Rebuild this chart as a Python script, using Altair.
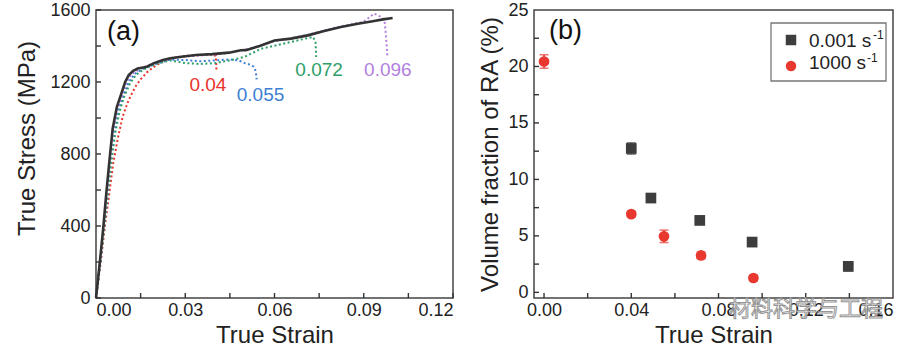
import altair as alt
import pandas as pd

FONT = "Liberation Sans"

# ---------------- Panel (a): true stress-strain curves ----------------
black_strain = [0, 0.0013, 0.0025, 0.0034, 0.0045, 0.0056, 0.007, 0.0084, 0.0098, 0.011, 0.0125,
                0.014, 0.0168, 0.0195, 0.0225, 0.025, 0.028, 0.0336, 0.039, 0.0447, 0.0487, 0.0504,
                0.055, 0.06, 0.0655, 0.0712, 0.0767, 0.0823, 0.088, 0.0935, 0.0965, 0.0997]
black_stress = [0, 200, 400, 570, 760, 940, 1060, 1130, 1200, 1238, 1262,
                1275, 1283, 1305, 1322, 1332, 1339, 1350, 1355, 1363, 1376, 1377,
                1400, 1431, 1441, 1459, 1483, 1506, 1524, 1539, 1548, 1556]

red_strain = [0, 0.0016, 0.003, 0.0044, 0.0058, 0.0075, 0.009, 0.0105, 0.0118, 0.0135, 0.015,
              0.0175, 0.02, 0.0225, 0.025, 0.03, 0.035, 0.039, 0.0403, 0.0404, 0.0405]
red_stress = [0, 200, 400, 572, 750, 900, 1010, 1080, 1128, 1180, 1215,
              1260, 1290, 1315, 1330, 1345, 1350, 1352, 1345, 1300, 1260]

blue_strain = [0, 0.0014, 0.0027, 0.0037, 0.0048, 0.006, 0.0075, 0.009, 0.011, 0.013, 0.016,
               0.02, 0.025, 0.03, 0.035, 0.04, 0.045, 0.048, 0.05, 0.052, 0.053, 0.0537, 0.054]
blue_stress = [0, 200, 400, 580, 760, 920, 1040, 1120, 1200, 1245, 1275,
               1300, 1325, 1322, 1315, 1320, 1325, 1320, 1305, 1295, 1285, 1260, 1215]

green_strain = [0, 0.0015, 0.0028, 0.004, 0.0052, 0.0065, 0.008, 0.0095, 0.0115, 0.0135, 0.016,
                0.02, 0.025, 0.03, 0.035, 0.04, 0.045, 0.05, 0.0555, 0.061, 0.0655, 0.07, 0.073,
                0.0738, 0.074]
green_stress = [0, 200, 400, 580, 760, 920, 1040, 1120, 1195, 1240, 1270,
                1300, 1320, 1305, 1300, 1305, 1320, 1340, 1385, 1405, 1422, 1440, 1450,
                1420, 1339]

purple_strain = [0, 0.0014, 0.0026, 0.0036, 0.0047, 0.0058, 0.0072, 0.0087, 0.0102, 0.012, 0.015,
                 0.02, 0.025, 0.03, 0.04, 0.045, 0.05, 0.055, 0.06, 0.065, 0.07, 0.075, 0.08,
                 0.085, 0.09, 0.0935, 0.096, 0.097, 0.0975, 0.098]
purple_stress = [0, 200, 400, 570, 760, 930, 1050, 1125, 1200, 1245, 1275,
                 1310, 1330, 1342, 1352, 1362, 1380, 1400, 1428, 1440, 1458, 1478, 1500,
                 1518, 1535, 1580, 1560, 1540, 1450, 1335]

ann_labels = ["0.04", "0.055", "0.072", "0.096"]
ann_strain = [0.0376, 0.0553, 0.075, 0.0981]
ann_stress = [1183, 1128, 1267, 1267]
ann_colors = ["#e8322c", "#3d7fd3", "#2e9e68", "#b27fe0"]

a_x_labels = [0, 0.03, 0.06, 0.09, 0.12]
a_x_ticks = [0, 0.015, 0.03, 0.045, 0.06, 0.075, 0.09, 0.105, 0.12]
a_y_labels = [0, 400, 800, 1200, 1600]
a_y_ticks = [0, 200, 400, 600, 800, 1000, 1200, 1400, 1600]

# ---------------- Panel (b): RA volume fraction ----------------
slow_label = "0.001 s"
fast_label = "1000 s"
slow_strain = [0.04, 0.049, 0.0714, 0.0954, 0.1395]
slow_ra = [12.74, 8.35, 6.37, 4.45, 2.3]
slow_err = [0.5, 0.25, 0.25, 0.2, 0.4]
fast_strain = [0.0, 0.04, 0.055, 0.072, 0.096]
fast_ra = [20.44, 6.93, 4.96, 3.27, 1.27]
fast_err = [0.6, 0.25, 0.55, 0.3, 0.25]

b_x_labels = [0, 0.04, 0.08, 0.12, 0.16]
b_x_ticks = [0, 0.02, 0.04, 0.06, 0.08, 0.10, 0.12, 0.14]
b_y_labels = [0, 5, 10, 15, 20, 25]
b_y_ticks = [0, 2.5, 5, 7.5, 10, 12.5, 15, 17.5, 20, 22.5]

TXT = dict(labelFont=FONT, titleFont=FONT, labelColor="#222", titleColor="#222",
           titleFontWeight="normal", labelFontSize=18, titleFontSize=24)
TICK_COLOR = "#333333"


def curve(strain, stress):
    return pd.DataFrame({"strain": strain, "stress": stress, "i": range(len(strain))})


def inner_ticks(xvals, yvals, xfield, yfield, xs, ys, h):
    xt = alt.Chart(pd.DataFrame({xfield: xvals})).mark_rule(
        color=TICK_COLOR, strokeWidth=1.4).encode(
        x=alt.X(f"{xfield}:Q", scale=xs, axis=None),
        y=alt.value(h - 5), y2=alt.value(h))
    yt = alt.Chart(pd.DataFrame({yfield: yvals})).mark_rule(
        color=TICK_COLOR, strokeWidth=1.4).encode(
        y=alt.Y(f"{yfield}:Q", scale=ys, axis=None),
        x=alt.value(0), x2=alt.value(5))
    return [xt, yt]


# ---------------- panel a ----------------
xa = alt.Scale(domain=[0, 0.12], nice=False, zero=False)
ya = alt.Scale(domain=[0, 1600], nice=False)

xa_axis = alt.Axis(orient="bottom", values=a_x_labels, format=".2f",
                   ticks=False, labelPadding=3, domain=False, grid=False,
                   title="True Strain", titlePadding=4, **TXT)
ya_axis = alt.Axis(orient="left", values=a_y_labels, format="d",
                   ticks=False, labelPadding=6, domain=False, grid=False,
                   title="True Stress (MPa)", titlePadding=10, titleY=128, **TXT)

layers_a = []
series = [
    (black_strain, black_stress, "#333333", None, 2.6),
    (red_strain, red_stress, "#e8322c", [2, 2.5], 2.0),
    (blue_strain, blue_stress, "#3d7fd3", [2, 2.5], 2.0),
    (green_strain, green_stress, "#2e9e68", [2, 2.5], 2.0),
    (purple_strain, purple_stress, "#b27fe0", [2, 2.5], 2.0),
]
first = True
for s, t, col, dash, w in series[1:] + series[:1]:
    kw = dict(color=col, strokeWidth=w)
    if dash:
        kw["strokeDash"] = dash
    ln = alt.Chart(curve(s, t)).mark_line(**kw).encode(
        x=alt.X("strain:Q", scale=xa, axis=xa_axis if first else None),
        y=alt.Y("stress:Q", scale=ya, axis=ya_axis if first else None),
        order="i:Q",
    )
    first = False
    layers_a.append(ln)

ann_df = pd.DataFrame({"label": ann_labels, "strain": ann_strain, "stress": ann_stress,
                       "c": ann_colors})
ann = alt.Chart(ann_df).mark_text(font=FONT, fontSize=19).encode(
    x=alt.X("strain:Q", scale=xa, axis=None),
    y=alt.Y("stress:Q", scale=ya, axis=None),
    text="label:N",
    color=alt.Color("c:N", scale=None),
)
tag_a = alt.Chart(pd.DataFrame({"t": ["(a)"], "strain": [0.0037], "stress": [1478]})).mark_text(
    font=FONT, fontSize=27, align="left", color="#111").encode(
    x=alt.X("strain:Q", scale=xa, axis=None),
    y=alt.Y("stress:Q", scale=ya, axis=None),
    text="t:N",
)
panel_a = alt.layer(*layers_a, ann, tag_a,
                    *inner_ticks(a_x_ticks, a_y_ticks, "strain", "stress", xa, ya, 288)
                    ).resolve_axis(x="independent", y="independent").properties(width=357, height=288)

# ---------------- panel b ----------------
xb = alt.Scale(domain=[-0.0046, 0.16], nice=False, zero=False)
yb = alt.Scale(domain=[-0.5, 25], nice=False, zero=False)

xb_axis = alt.Axis(orient="bottom", values=b_x_labels, format=".2f",
                   ticks=False, labelPadding=3, domain=False, grid=False,
                   title="True Strain", titlePadding=4, **TXT)
yb_axis = alt.Axis(orient="left", values=b_y_labels, format="d",
                   ticks=False, labelPadding=6, domain=False, grid=False,
                   title="Volume fraction of RA (%)", titlePadding=5, **TXT)

pts = pd.DataFrame({
    "strain": slow_strain + fast_strain,
    "ra": slow_ra + fast_ra,
    "err": slow_err + fast_err,
    "rate": [slow_label] * len(slow_strain) + [fast_label] * len(fast_strain),
})
pts["lo"] = pts["ra"] - pts["err"]
pts["hi"] = pts["ra"] + pts["err"]

dom = [slow_label, fast_label]
cols = ["#3d3d3d", "#e8382f"]
cscale = alt.Scale(domain=dom, range=cols)
sscale = alt.Scale(domain=dom, range=["square", "circle"])

err_rule = alt.Chart(pts).mark_rule(strokeWidth=1.5).encode(
    x=alt.X("strain:Q", scale=xb, axis=None),
    y=alt.Y("lo:Q", scale=yb, axis=None),
    y2="hi:Q",
    color=alt.Color("rate:N", scale=cscale, legend=None),
)
cap_lo = alt.Chart(pts).mark_tick(orient="horizontal", size=9, thickness=1.5).encode(
    x=alt.X("strain:Q", scale=xb, axis=None),
    y=alt.Y("lo:Q", scale=yb, axis=None),
    color=alt.Color("rate:N", scale=cscale, legend=None),
)
cap_hi = alt.Chart(pts).mark_tick(orient="horizontal", size=9, thickness=1.5).encode(
    x=alt.X("strain:Q", scale=xb, axis=None),
    y=alt.Y("hi:Q", scale=yb, axis=None),
    color=alt.Color("rate:N", scale=cscale, legend=None),
)
points = alt.Chart(pts).mark_point(filled=True, size=115, opacity=1).encode(
    x=alt.X("strain:Q", scale=xb, axis=xb_axis),
    y=alt.Y("ra:Q", scale=yb, axis=yb_axis),
    color=alt.Color("rate:N", scale=cscale, legend=None),
    shape=alt.Shape("rate:N", scale=sscale, legend=None),
)
tag_b = alt.Chart(pd.DataFrame({"t": ["(b)"], "strain": [0.0023], "ra": [23.1]})).mark_text(
    font=FONT, fontSize=27, align="left", color="#111").encode(
    x=alt.X("strain:Q", scale=xb, axis=None),
    y=alt.Y("ra:Q", scale=yb, axis=None),
    text="t:N",
)

# legend box drawn by hand (with superscript -1)
leg_df = pd.DataFrame({"rate": dom, "sx": [257, 257], "sy": [30, 56],
                       "ty": [30.5, 53], "supx": [339, 333], "supy": [25, 48]})
leg_box = alt.Chart(pd.DataFrame({"k": [0]})).mark_rect(
    fill="white", stroke="#777", strokeWidth=1.3).encode(
    x=alt.value(237), x2=alt.value(352), y=alt.value(13), y2=alt.value(71))
leg_sym = alt.Chart(leg_df).mark_point(filled=True, size=110, opacity=1).encode(
    x=alt.X("sx:Q", scale=None, axis=None), y=alt.Y("sy:Q", scale=None, axis=None),
    color=alt.Color("rate:N", scale=cscale, legend=None),
    shape=alt.Shape("rate:N", scale=sscale, legend=None))
leg_txt = alt.Chart(leg_df).mark_text(font=FONT, fontSize=19, align="left",
                                      baseline="middle", color="#222").encode(
    x=alt.value(275), y=alt.Y("ty:Q", scale=None, axis=None), text="rate:N")
leg_sup = alt.Chart(leg_df).mark_text(font=FONT, fontSize=12, align="left",
                                      baseline="middle", color="#222", text="-1").encode(
    x=alt.X("supx:Q", scale=None, axis=None), y=alt.Y("supy:Q", scale=None, axis=None))

watermark = alt.Chart(pd.DataFrame({"t": ["材料科学与工程"]})).mark_text(
    font="Noto Sans CJK SC", fontSize=22, align="left", baseline="middle",
    fill="white", stroke="#8a8a8a", strokeWidth=1, opacity=0.9).encode(
    x=alt.value(195), y=alt.value(299), text="t:N")

panel_b = alt.layer(err_rule, cap_lo, cap_hi, points, tag_b,
                    *inner_ticks(b_x_ticks, b_y_ticks, "strain", "ra", xb, yb, 288),
                    leg_box, leg_sym, leg_txt, leg_sup, watermark
                    ).resolve_axis(x="independent", y="independent").properties(width=359, height=288)

chart = alt.hconcat(panel_a, panel_b, spacing=81, bounds="flush").properties(
    padding={"left": 15, "top": 0, "right": 0, "bottom": 0}, background="white"
).configure_view(stroke="#444444", strokeWidth=1.5)

chart.save("out.html", embed_options={"renderer": "svg", "actions": False})
